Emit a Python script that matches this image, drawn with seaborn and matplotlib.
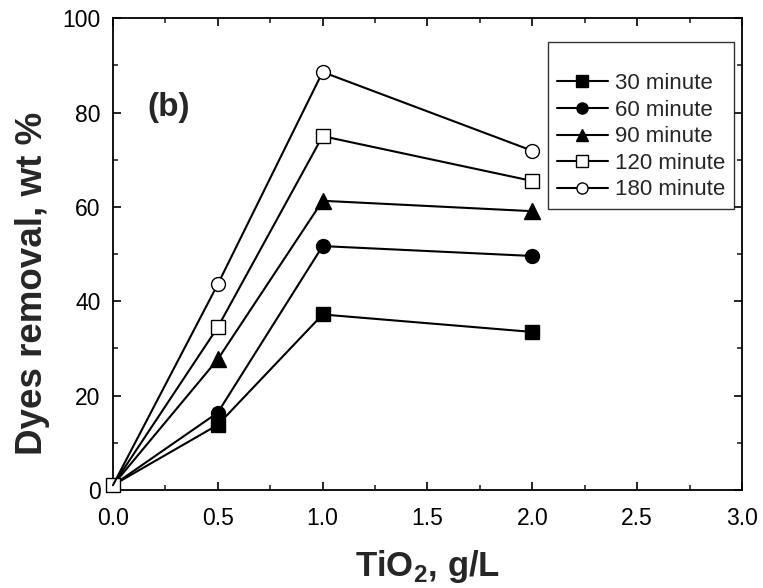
import matplotlib
matplotlib.use("Agg")
import matplotlib.pyplot as plt
import seaborn as sns
import pandas as pd

sns.set_style("ticks")
plt.rcParams['font.family'] = ['Liberation Sans', 'DejaVu Sans']
plt.rcParams['mathtext.fontset'] = 'custom'
plt.rcParams['mathtext.bf'] = 'Liberation Sans:bold'
plt.rcParams['mathtext.rm'] = 'Liberation Sans'

dose = [0.0, 0.5, 1.0, 2.0]
series_names = ["30 minute", "60 minute", "90 minute", "120 minute", "180 minute"]
removal_30 = [1.0, 13.8, 37.2, 33.5]
removal_60 = [1.0, 16.4, 51.7, 49.6]
removal_90 = [1.0, 27.7, 61.3, 59.1]
removal_120 = [1.0, 34.5, 75.0, 65.5]
removal_180 = [1.0, 43.6, 88.6, 71.9]
all_values = [removal_30, removal_60, removal_90, removal_120, removal_180]

rows = []
for name, vals in zip(series_names, all_values):
    for x, y in zip(dose, vals):
        rows.append({"dose": x, "removal": y, "time": name})
df = pd.DataFrame(rows)

styles = {
    "30 minute": dict(marker="s", mfc="black"),
    "60 minute": dict(marker="o", mfc="black"),
    "90 minute": dict(marker="^", mfc="black"),
    "120 minute": dict(marker="s", mfc="white"),
    "180 minute": dict(marker="o", mfc="white"),
}

fig = plt.figure(figsize=(7.63, 5.88), dpi=100)
ax = fig.add_axes([0.148, 0.1667, 0.8245, 0.8023])

for name in series_names:
    st = styles[name]
    sub = df[df["time"] == name]
    ms = 11 if st["marker"] == "^" else 10
    every = [0, 1, 2, 3] if name == "120 minute" else [1, 2, 3]
    sns.lineplot(data=sub, x="dose", y="removal", ax=ax, color="black",
                 linewidth=1.5, marker=st["marker"], markersize=ms,
                 markerfacecolor=st["mfc"], markeredgecolor="black",
                 markeredgewidth=1.0, markevery=every, label=name,
                 clip_on=False, zorder=3)

ax.set_xlim(0, 3.0)
ax.set_ylim(0, 100)
ax.set_xticks([0, 0.5, 1.0, 1.5, 2.0, 2.5, 3.0])
ax.set_xticklabels(["0.0", "0.5", "1.0", "1.5", "2.0", "2.5", "3.0"])
ax.set_yticks([0, 20, 40, 60, 80, 100])
ax.set_xticks([0.25, 0.75, 1.25, 1.75, 2.25, 2.75], minor=True)
ax.set_yticks([10, 30, 50, 70, 90], minor=True)
ax.tick_params(which="major", direction="in", length=6, width=1.2,
               labelsize=16.5, colors="black", pad=9,
               top=True, right=True)
ax.tick_params(axis="x", which="major", pad=12)
ax.tick_params(which="minor", direction="in", length=3.5, width=1.2,
               top=True, right=True)
for s in ax.spines.values():
    s.set_visible(True)
    s.set_linewidth(1.3)
    s.set_color("black")

ax.set_xlabel(r"TiO$_\mathbf{2}$, g/L", fontsize=25, fontweight="bold", labelpad=13)
ax.set_ylabel("Dyes removal, wt %", fontsize=26.5, fontweight="bold")
ax.yaxis.set_label_coords(-0.100, 0.4386)

ax.text(0.165, 81, "(b)", fontsize=24, fontweight="bold", va="center", ha="left")

leg = ax.legend(loc="upper right", bbox_to_anchor=(0.987, 0.95), fontsize=16,
                frameon=True, fancybox=False, edgecolor="black",
                handlelength=2.3, handletextpad=0.3, labelspacing=0.25,
                borderpad=0.4, borderaxespad=0.0, markerscale=0.8,
                title=" ", title_fontsize=14)
leg.get_frame().set_linewidth(1.0)

fig.savefig("out.png", dpi=100)
